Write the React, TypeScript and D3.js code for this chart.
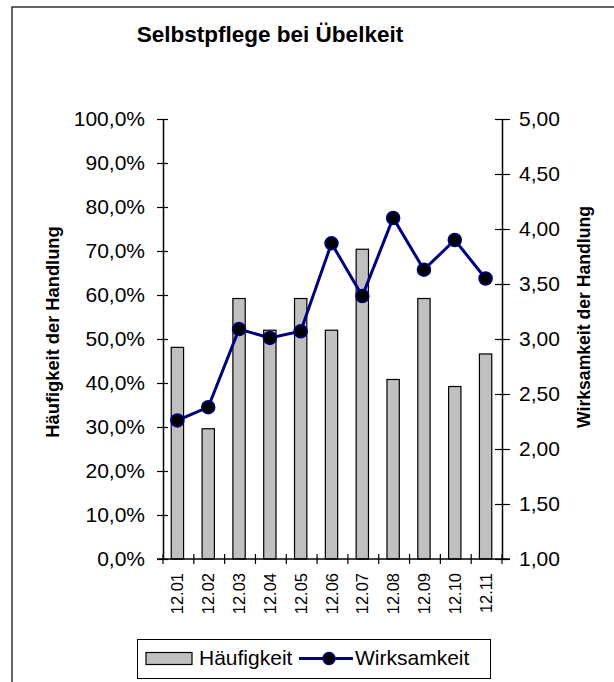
import React, { useEffect, useRef } from 'react';
import * as d3 from 'd3';

const categories = ['12.01', '12.02', '12.03', '12.04', '12.05', '12.06', '12.07', '12.08', '12.09', '12.10', '12.11'];
// Häufigkeit der Handlung in %
const haeufigkeit = [48.1, 29.6, 59.2, 52.0, 59.2, 52.0, 70.4, 40.8, 59.2, 39.2, 46.6];
// Wirksamkeit der Handlung (Skala 1-5)
const wirksamkeit = [2.26, 2.38, 3.09, 3.01, 3.07, 3.87, 3.39, 4.10, 3.63, 3.90, 3.55];
const leftTicks = [0, 10, 20, 30, 40, 50, 60, 70, 80, 90, 100];
const rightTicks = [1, 1.5, 2, 2.5, 3, 3.5, 4, 4.5, 5];

const font = "'Liberation Sans', Arial, sans-serif";

export default function App() {
  const ref = useRef<SVGSVGElement>(null);

  useEffect(() => {
    const width = 614, height = 682;
    const margin = { top: 119, right: 112, bottom: 123, left: 163 };
    const svg = d3.select(ref.current);
    svg.selectAll('*').remove();
    svg.attr('width', width).attr('height', height);

    const de = d3.formatLocale({ decimal: ',', thousands: '.', grouping: [3], currency: ['', '€'] });
    const pct = (v: number) => de.format('.1f')(v) + '%';
    const num = de.format('.2f');

    // outer frame
    svg.append('rect')
      .attr('x', 12).attr('y', 7)
      .attr('width', 640).attr('height', 700)
      .attr('fill', 'white').attr('stroke', '#000').attr('stroke-width', 1.2);

    const x = d3.scaleBand()
      .domain(categories)
      .range([margin.left, width - margin.right])
      .padding(0);

    const y = d3.scaleLinear()
      .domain([0, 100])
      .range([height - margin.bottom, margin.top]);

    const y2 = d3.scaleLinear()
      .domain([1, 5])
      .range([height - margin.bottom, margin.top]);

    // bars
    const bw = x.bandwidth() * 0.4;
    svg.append('g')
      .selectAll('rect').data(haeufigkeit).enter().append('rect')
      .attr('x', (d, i) => x(categories[i])! + x.bandwidth() / 2 - bw / 2 - 1)
      .attr('y', d => y(d))
      .attr('width', bw)
      .attr('height', d => y(0) - y(d))
      .attr('fill', '#c0c0c0')
      .attr('stroke', '#000')
      .attr('stroke-width', 1.2);

    // left axis
    const yAxis = svg.append('g')
      .attr('transform', `translate(${margin.left},0)`)
      .call(d3.axisLeft(y).tickValues(leftTicks).tickFormat(d => pct(+d)).tickSize(6).tickPadding(12).tickSizeOuter(0));
    yAxis.select('.domain').attr('stroke-width', 1.5);
    yAxis.selectAll('.tick line').attr('x2', 5).attr('x1', -6).attr('stroke-width', 1.2);
    yAxis.selectAll('.tick text').attr('font-size', 21).attr('font-family', font).attr('fill', '#000');

    // right axis
    const y2Axis = svg.append('g')
      .attr('transform', `translate(${width - margin.right},0)`)
      .call(d3.axisRight(y2).tickValues(rightTicks).tickFormat(d => num(+d)).tickSize(7).tickPadding(10).tickSizeOuter(0));
    y2Axis.select('.domain').attr('stroke-width', 1.5);
    y2Axis.selectAll('.tick line').attr('x1', -7).attr('x2', 8).attr('stroke-width', 1.2);
    y2Axis.selectAll('.tick text').attr('font-size', 21).attr('font-family', font).attr('fill', '#000');

    // x axis: ticks between categories
    const bounds = categories.map(c => x(c)!).concat([width - margin.right]);
    const xg = svg.append('g');
    xg.append('line')
      .attr('x1', margin.left - 6).attr('x2', width - margin.right + 8)
      .attr('y1', y(0)).attr('y2', y(0))
      .attr('stroke', '#000').attr('stroke-width', 1.5);
    xg.selectAll('line.t').data(bounds).enter().append('line')
      .attr('class', 't')
      .attr('x1', d => d).attr('x2', d => d)
      .attr('y1', y(0) - 5).attr('y2', y(0) + 5)
      .attr('stroke', '#000').attr('stroke-width', 1.2);
    xg.selectAll('text').data(categories).enter().append('text')
      .attr('transform', d => `translate(${x(d)! + x.bandwidth() / 2 - 1},${y(0) + 14}) rotate(-90)`)
      .attr('text-anchor', 'end')
      .attr('dominant-baseline', 'central')
      .attr('font-size', 16.5)
      .attr('font-family', font)
      .text(d => d);

    // line series
    const line = d3.line<number>()
      .x((d, i) => x(categories[i])! + x.bandwidth() / 2 - 1)
      .y(d => y2(d));
    svg.append('path')
      .datum(wirksamkeit)
      .attr('d', line)
      .attr('fill', 'none')
      .attr('stroke', '#000080')
      .attr('stroke-width', 3);
    svg.append('g')
      .selectAll('circle').data(wirksamkeit).enter().append('circle')
      .attr('cx', (d, i) => x(categories[i])! + x.bandwidth() / 2 - 1)
      .attr('cy', d => y2(d))
      .attr('r', 6.5)
      .attr('fill', '#000')
      .attr('stroke', '#000080')
      .attr('stroke-width', 1.5);

    // title
    svg.append('text')
      .attr('x', 270).attr('y', 42)
      .attr('text-anchor', 'middle')
      .attr('font-size', 22.5).attr('font-weight', 'bold').attr('font-family', font)
      .text('Selbstpflege bei Übelkeit');

    // axis titles
    svg.append('text')
      .attr('transform', 'translate(52,332) rotate(-90)')
      .attr('text-anchor', 'middle').attr('dominant-baseline', 'central')
      .attr('font-size', 18.3).attr('font-weight', 'bold').attr('font-family', font)
      .text('Häufigkeit der Handlung');
    svg.append('text')
      .attr('transform', 'translate(584,317) rotate(-90)')
      .attr('text-anchor', 'middle').attr('dominant-baseline', 'central')
      .attr('font-size', 17.6).attr('font-weight', 'bold').attr('font-family', font)
      .text('Wirksamkeit der Handlung');

    // legend
    const lg = svg.append('g');
    lg.append('rect')
      .attr('x', 137.5).attr('y', 639.5).attr('width', 353).attr('height', 39)
      .attr('fill', 'white').attr('stroke', '#000').attr('stroke-width', 1);
    lg.append('rect')
      .attr('x', 146).attr('y', 652.5).attr('width', 46).attr('height', 12)
      .attr('fill', '#c0c0c0').attr('stroke', '#000').attr('stroke-width', 1.2);
    lg.append('text')
      .attr('x', 199).attr('y', 665)
      .attr('font-size', 21).attr('font-family', font)
      .text('Häufigkeit');
    lg.append('line')
      .attr('x1', 299).attr('x2', 353).attr('y1', 658.5).attr('y2', 658.5)
      .attr('stroke', '#000080').attr('stroke-width', 3);
    lg.append('circle')
      .attr('cx', 329).attr('cy', 658.5).attr('r', 6)
      .attr('fill', '#000').attr('stroke', '#000080').attr('stroke-width', 1.5);
    lg.append('text')
      .attr('x', 355).attr('y', 665)
      .attr('font-size', 21).attr('font-family', font)
      .text('Wirksamkeit');
  }, []);

  return (
    <svg ref={ref} style={{ position: 'absolute', left: 0, top: 0 }} />
  );
}
